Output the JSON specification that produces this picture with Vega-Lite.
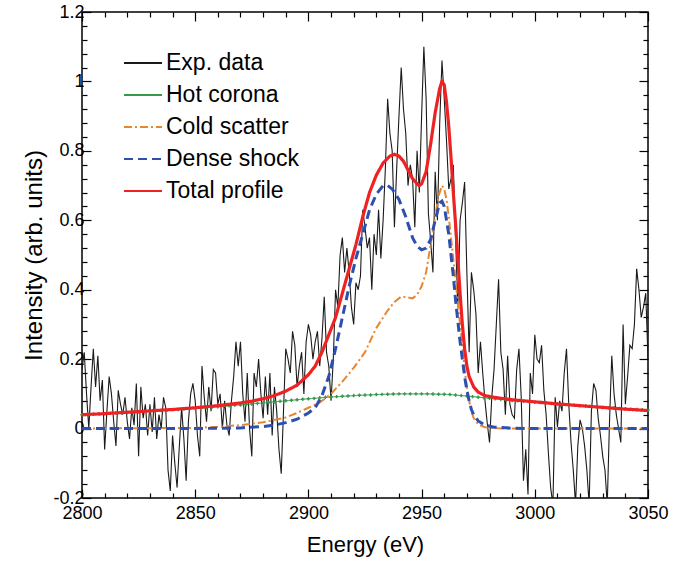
{
"$schema": "https://vega.github.io/schema/vega-lite/v6.json",
"width": 566, "height": 486,
"autosize": "none",
"padding": {"left": 82, "top": 12, "right": 47, "bottom": 63},
"config": {
  "view": {"stroke": "#000", "strokeWidth": 1.5},
  "font": "Liberation Sans",
  "axis": {"grid": false, "domain": false, "labelFont": "Liberation Sans", "titleFont": "Liberation Sans", "labelColor": "#000", "titleColor": "#000", "tickColor": "#000", "tickWidth": 1.2, "labelFontSize": 18, "titleFontSize": 22, "titleFontWeight": "normal", "labelFlush": false, "labelOverlap": false},
  "legend": {"orient": "none", "legendX": 41, "legendY": 31, "title": null, "padding": 0, "labelFontSize": 23, "labelFont": "Liberation Sans", "labelColor": "#000", "symbolType": "stroke", "symbolSize": 1444, "symbolStrokeWidth": 2, "rowPadding": 0, "labelOffset": 3}
},
"datasets": {
"exp": [
{"s":"Exp. data","E":2800,"I":0.17},{"s":"Exp. data","E":2801,"I":0.22},{"s":"Exp. data","E":2802,"I":0.10},{"s":"Exp. data","E":2803,"I":0.0},{"s":"Exp. data","E":2804,"I":0.12},{"s":"Exp. data","E":2805,"I":0.23},{"s":"Exp. data","E":2806,"I":0.12},{"s":"Exp. data","E":2807,"I":0.21},{"s":"Exp. data","E":2808,"I":0.08},{"s":"Exp. data","E":2809,"I":0.14},
{"s":"Exp. data","E":2810,"I":-0.06},{"s":"Exp. data","E":2811,"I":0.05},{"s":"Exp. data","E":2812,"I":0.15},{"s":"Exp. data","E":2813,"I":0.10},{"s":"Exp. data","E":2814,"I":0.02},{"s":"Exp. data","E":2815,"I":-0.05},{"s":"Exp. data","E":2816,"I":0.11},{"s":"Exp. data","E":2817,"I":0.07},{"s":"Exp. data","E":2818,"I":0.04},{"s":"Exp. data","E":2819,"I":0.09},
{"s":"Exp. data","E":2820,"I":0.02},{"s":"Exp. data","E":2821,"I":-0.03},{"s":"Exp. data","E":2822,"I":0.06},{"s":"Exp. data","E":2823,"I":0.01},{"s":"Exp. data","E":2824,"I":0.13},{"s":"Exp. data","E":2825,"I":-0.08},{"s":"Exp. data","E":2826,"I":0.12},{"s":"Exp. data","E":2827,"I":0.03},{"s":"Exp. data","E":2828,"I":0.07},{"s":"Exp. data","E":2829,"I":-0.02},
{"s":"Exp. data","E":2830,"I":0.07},{"s":"Exp. data","E":2831,"I":-0.01},{"s":"Exp. data","E":2832,"I":0.09},{"s":"Exp. data","E":2833,"I":-0.03},{"s":"Exp. data","E":2834,"I":0.04},{"s":"Exp. data","E":2835,"I":0.0},{"s":"Exp. data","E":2836,"I":0.09},{"s":"Exp. data","E":2837,"I":0.06},{"s":"Exp. data","E":2838,"I":-0.12},{"s":"Exp. data","E":2839,"I":-0.18},
{"s":"Exp. data","E":2840,"I":-0.02},{"s":"Exp. data","E":2841,"I":-0.10},{"s":"Exp. data","E":2842,"I":-0.17},{"s":"Exp. data","E":2843,"I":-0.05},{"s":"Exp. data","E":2844,"I":0.06},{"s":"Exp. data","E":2845,"I":-0.03},{"s":"Exp. data","E":2846,"I":-0.15},{"s":"Exp. data","E":2847,"I":0.02},{"s":"Exp. data","E":2848,"I":0.10},{"s":"Exp. data","E":2849,"I":0.13},
{"s":"Exp. data","E":2850,"I":0.08},{"s":"Exp. data","E":2851,"I":-0.02},{"s":"Exp. data","E":2852,"I":-0.08},{"s":"Exp. data","E":2853,"I":0.18},{"s":"Exp. data","E":2854,"I":0.09},{"s":"Exp. data","E":2855,"I":0.02},{"s":"Exp. data","E":2856,"I":0.12},{"s":"Exp. data","E":2857,"I":0.05},{"s":"Exp. data","E":2858,"I":0.17},{"s":"Exp. data","E":2859,"I":0.16},
{"s":"Exp. data","E":2860,"I":0.07},{"s":"Exp. data","E":2861,"I":0.10},{"s":"Exp. data","E":2862,"I":0.0},{"s":"Exp. data","E":2863,"I":0.08},{"s":"Exp. data","E":2864,"I":0.01},{"s":"Exp. data","E":2865,"I":-0.02},{"s":"Exp. data","E":2866,"I":0.08},{"s":"Exp. data","E":2867,"I":0.15},{"s":"Exp. data","E":2868,"I":0.25},{"s":"Exp. data","E":2869,"I":0.18},
{"s":"Exp. data","E":2870,"I":0.25},{"s":"Exp. data","E":2871,"I":0.10},{"s":"Exp. data","E":2872,"I":0.02},{"s":"Exp. data","E":2873,"I":0.16},{"s":"Exp. data","E":2874,"I":0.0},{"s":"Exp. data","E":2875,"I":-0.08},{"s":"Exp. data","E":2876,"I":0.16},{"s":"Exp. data","E":2877,"I":0.12},{"s":"Exp. data","E":2878,"I":0.20},{"s":"Exp. data","E":2879,"I":0.10},
{"s":"Exp. data","E":2880,"I":0.03},{"s":"Exp. data","E":2881,"I":0.15},{"s":"Exp. data","E":2882,"I":0.04},{"s":"Exp. data","E":2883,"I":0.16},{"s":"Exp. data","E":2884,"I":-0.02},{"s":"Exp. data","E":2885,"I":0.12},{"s":"Exp. data","E":2886,"I":0.05},{"s":"Exp. data","E":2887,"I":-0.06},{"s":"Exp. data","E":2888,"I":-0.13},{"s":"Exp. data","E":2889,"I":0.05},
{"s":"Exp. data","E":2890,"I":0.23},{"s":"Exp. data","E":2891,"I":0.20},{"s":"Exp. data","E":2892,"I":0.16},{"s":"Exp. data","E":2893,"I":0.28},{"s":"Exp. data","E":2894,"I":0.24},{"s":"Exp. data","E":2895,"I":0.12},{"s":"Exp. data","E":2896,"I":0.18},{"s":"Exp. data","E":2897,"I":0.22},{"s":"Exp. data","E":2898,"I":0.10},{"s":"Exp. data","E":2899,"I":0.25},
{"s":"Exp. data","E":2900,"I":0.30},{"s":"Exp. data","E":2901,"I":0.27},{"s":"Exp. data","E":2902,"I":0.20},{"s":"Exp. data","E":2903,"I":0.25},{"s":"Exp. data","E":2904,"I":0.28},{"s":"Exp. data","E":2905,"I":0.18},{"s":"Exp. data","E":2906,"I":0.26},{"s":"Exp. data","E":2907,"I":0.38},{"s":"Exp. data","E":2908,"I":0.22},{"s":"Exp. data","E":2909,"I":0.18},
{"s":"Exp. data","E":2910,"I":0.08},{"s":"Exp. data","E":2911,"I":0.20},{"s":"Exp. data","E":2912,"I":0.40},{"s":"Exp. data","E":2913,"I":0.35},{"s":"Exp. data","E":2914,"I":0.50},{"s":"Exp. data","E":2915,"I":0.55},{"s":"Exp. data","E":2916,"I":0.45},{"s":"Exp. data","E":2917,"I":0.52},{"s":"Exp. data","E":2918,"I":0.45},{"s":"Exp. data","E":2919,"I":0.35},
{"s":"Exp. data","E":2920,"I":0.30},{"s":"Exp. data","E":2921,"I":0.42},{"s":"Exp. data","E":2922,"I":0.40},{"s":"Exp. data","E":2923,"I":0.44},{"s":"Exp. data","E":2924,"I":0.63},{"s":"Exp. data","E":2925,"I":0.58},{"s":"Exp. data","E":2926,"I":0.52},{"s":"Exp. data","E":2927,"I":0.55},{"s":"Exp. data","E":2928,"I":0.40},{"s":"Exp. data","E":2929,"I":0.56},
{"s":"Exp. data","E":2930,"I":0.50},{"s":"Exp. data","E":2931,"I":0.63},{"s":"Exp. data","E":2932,"I":0.49},{"s":"Exp. data","E":2933,"I":0.60},{"s":"Exp. data","E":2934,"I":0.75},{"s":"Exp. data","E":2935,"I":0.95},{"s":"Exp. data","E":2936,"I":0.85},{"s":"Exp. data","E":2937,"I":0.80},{"s":"Exp. data","E":2938,"I":0.58},{"s":"Exp. data","E":2939,"I":0.75},
{"s":"Exp. data","E":2940,"I":0.90},{"s":"Exp. data","E":2941,"I":1.04},{"s":"Exp. data","E":2942,"I":0.92},{"s":"Exp. data","E":2943,"I":0.85},{"s":"Exp. data","E":2944,"I":0.70},{"s":"Exp. data","E":2945,"I":0.76},{"s":"Exp. data","E":2946,"I":0.72},{"s":"Exp. data","E":2947,"I":0.58},{"s":"Exp. data","E":2948,"I":0.80},{"s":"Exp. data","E":2949,"I":0.68},
{"s":"Exp. data","E":2950,"I":0.90},{"s":"Exp. data","E":2951,"I":1.10},{"s":"Exp. data","E":2952,"I":0.95},{"s":"Exp. data","E":2953,"I":0.62},{"s":"Exp. data","E":2954,"I":0.54},{"s":"Exp. data","E":2955,"I":0.45},{"s":"Exp. data","E":2956,"I":0.74},{"s":"Exp. data","E":2957,"I":0.60},{"s":"Exp. data","E":2958,"I":0.88},{"s":"Exp. data","E":2959,"I":1.06},
{"s":"Exp. data","E":2960,"I":0.95},{"s":"Exp. data","E":2961,"I":0.83},{"s":"Exp. data","E":2962,"I":0.69},{"s":"Exp. data","E":2963,"I":0.72},{"s":"Exp. data","E":2964,"I":0.76},{"s":"Exp. data","E":2965,"I":0.55},{"s":"Exp. data","E":2966,"I":0.35},{"s":"Exp. data","E":2967,"I":0.60},{"s":"Exp. data","E":2968,"I":0.65},{"s":"Exp. data","E":2969,"I":0.71},
{"s":"Exp. data","E":2970,"I":0.45},{"s":"Exp. data","E":2971,"I":0.22},{"s":"Exp. data","E":2972,"I":0.45},{"s":"Exp. data","E":2973,"I":0.40},{"s":"Exp. data","E":2974,"I":0.33},{"s":"Exp. data","E":2975,"I":0.16},{"s":"Exp. data","E":2976,"I":0.25},{"s":"Exp. data","E":2977,"I":0.16},{"s":"Exp. data","E":2978,"I":0.08},{"s":"Exp. data","E":2979,"I":0.015},
{"s":"Exp. data","E":2980,"I":-0.04},{"s":"Exp. data","E":2981,"I":0.09},{"s":"Exp. data","E":2982,"I":0.17},{"s":"Exp. data","E":2983,"I":0.30},{"s":"Exp. data","E":2984,"I":0.43},{"s":"Exp. data","E":2985,"I":0.22},{"s":"Exp. data","E":2986,"I":0.17},{"s":"Exp. data","E":2987,"I":0.04},{"s":"Exp. data","E":2988,"I":0.21},{"s":"Exp. data","E":2989,"I":0.07},
{"s":"Exp. data","E":2990,"I":0.04},{"s":"Exp. data","E":2991,"I":0.03},{"s":"Exp. data","E":2992,"I":0.17},{"s":"Exp. data","E":2993,"I":0.23},{"s":"Exp. data","E":2994,"I":0.09},{"s":"Exp. data","E":2995,"I":-0.15},{"s":"Exp. data","E":2996,"I":-0.06},{"s":"Exp. data","E":2997,"I":-0.19},{"s":"Exp. data","E":2998,"I":0.16},{"s":"Exp. data","E":2999,"I":0.10},
{"s":"Exp. data","E":3000,"I":0.27},{"s":"Exp. data","E":3001,"I":0.20},{"s":"Exp. data","E":3002,"I":0.19},{"s":"Exp. data","E":3003,"I":0.24},{"s":"Exp. data","E":3004,"I":0.11},{"s":"Exp. data","E":3005,"I":0.04},{"s":"Exp. data","E":3006,"I":-0.07},{"s":"Exp. data","E":3007,"I":-0.17},{"s":"Exp. data","E":3008,"I":-0.22},{"s":"Exp. data","E":3009,"I":0.09},
{"s":"Exp. data","E":3010,"I":0.005},{"s":"Exp. data","E":3011,"I":0.08},{"s":"Exp. data","E":3012,"I":0.05},{"s":"Exp. data","E":3013,"I":0.16},{"s":"Exp. data","E":3014,"I":0.23},{"s":"Exp. data","E":3015,"I":0.07},{"s":"Exp. data","E":3016,"I":-0.04},{"s":"Exp. data","E":3017,"I":-0.12},{"s":"Exp. data","E":3018,"I":-0.22},{"s":"Exp. data","E":3019,"I":-0.05},
{"s":"Exp. data","E":3020,"I":0.025},{"s":"Exp. data","E":3021,"I":0.0},{"s":"Exp. data","E":3022,"I":-0.05},{"s":"Exp. data","E":3023,"I":-0.12},{"s":"Exp. data","E":3024,"I":-0.22},{"s":"Exp. data","E":3025,"I":0.05},{"s":"Exp. data","E":3026,"I":0.13},{"s":"Exp. data","E":3027,"I":0.11},{"s":"Exp. data","E":3028,"I":0.03},{"s":"Exp. data","E":3029,"I":-0.02},
{"s":"Exp. data","E":3030,"I":-0.08},{"s":"Exp. data","E":3031,"I":-0.12},{"s":"Exp. data","E":3032,"I":-0.22},{"s":"Exp. data","E":3033,"I":0.02},{"s":"Exp. data","E":3034,"I":0.21},{"s":"Exp. data","E":3035,"I":0.10},{"s":"Exp. data","E":3036,"I":0.04},{"s":"Exp. data","E":3037,"I":0.0},{"s":"Exp. data","E":3038,"I":-0.04},{"s":"Exp. data","E":3039,"I":0.30},
{"s":"Exp. data","E":3040,"I":0.07},{"s":"Exp. data","E":3041,"I":0.15},{"s":"Exp. data","E":3042,"I":0.24},{"s":"Exp. data","E":3043,"I":0.23},{"s":"Exp. data","E":3044,"I":0.30},{"s":"Exp. data","E":3045,"I":0.46},{"s":"Exp. data","E":3046,"I":0.40},{"s":"Exp. data","E":3047,"I":0.32},{"s":"Exp. data","E":3048,"I":0.35},{"s":"Exp. data","E":3049,"I":0.39},
{"s":"Exp. data","E":3050,"I":0.20}
],
"hot": [
{"s":"Hot corona","E":2800,"I":0.040},{"s":"Hot corona","E":2802.5,"I":0.041},{"s":"Hot corona","E":2805,"I":0.0415},{"s":"Hot corona","E":2807.5,"I":0.042},{"s":"Hot corona","E":2810,"I":0.043},{"s":"Hot corona","E":2812.5,"I":0.044},{"s":"Hot corona","E":2815,"I":0.0445},{"s":"Hot corona","E":2817.5,"I":0.045},
{"s":"Hot corona","E":2820,"I":0.046},{"s":"Hot corona","E":2822.5,"I":0.047},{"s":"Hot corona","E":2825,"I":0.048},{"s":"Hot corona","E":2827.5,"I":0.049},{"s":"Hot corona","E":2830,"I":0.050},{"s":"Hot corona","E":2832.5,"I":0.051},{"s":"Hot corona","E":2835,"I":0.052},{"s":"Hot corona","E":2837.5,"I":0.053},
{"s":"Hot corona","E":2840,"I":0.054},{"s":"Hot corona","E":2842.5,"I":0.055},{"s":"Hot corona","E":2845,"I":0.056},{"s":"Hot corona","E":2847.5,"I":0.057},{"s":"Hot corona","E":2850,"I":0.058},{"s":"Hot corona","E":2852.5,"I":0.059},{"s":"Hot corona","E":2855,"I":0.0605},{"s":"Hot corona","E":2857.5,"I":0.062},
{"s":"Hot corona","E":2860,"I":0.063},{"s":"Hot corona","E":2862.5,"I":0.064},{"s":"Hot corona","E":2865,"I":0.0655},{"s":"Hot corona","E":2867.5,"I":0.067},{"s":"Hot corona","E":2870,"I":0.068},{"s":"Hot corona","E":2872.5,"I":0.0695},{"s":"Hot corona","E":2875,"I":0.071},{"s":"Hot corona","E":2877.5,"I":0.0725},
{"s":"Hot corona","E":2880,"I":0.074},{"s":"Hot corona","E":2882.5,"I":0.0755},{"s":"Hot corona","E":2885,"I":0.077},{"s":"Hot corona","E":2887.5,"I":0.0785},{"s":"Hot corona","E":2890,"I":0.080},{"s":"Hot corona","E":2892.5,"I":0.0815},{"s":"Hot corona","E":2895,"I":0.083},{"s":"Hot corona","E":2897.5,"I":0.0845},
{"s":"Hot corona","E":2900,"I":0.086},{"s":"Hot corona","E":2902.5,"I":0.087},{"s":"Hot corona","E":2905,"I":0.0885},{"s":"Hot corona","E":2907.5,"I":0.090},{"s":"Hot corona","E":2910,"I":0.091},{"s":"Hot corona","E":2912.5,"I":0.092},{"s":"Hot corona","E":2915,"I":0.093},{"s":"Hot corona","E":2917.5,"I":0.094},
{"s":"Hot corona","E":2920,"I":0.095},{"s":"Hot corona","E":2922.5,"I":0.096},{"s":"Hot corona","E":2925,"I":0.0965},{"s":"Hot corona","E":2927.5,"I":0.097},{"s":"Hot corona","E":2930,"I":0.098},{"s":"Hot corona","E":2932.5,"I":0.0985},{"s":"Hot corona","E":2935,"I":0.099},{"s":"Hot corona","E":2937.5,"I":0.0995},
{"s":"Hot corona","E":2940,"I":0.100},{"s":"Hot corona","E":2942.5,"I":0.100},{"s":"Hot corona","E":2945,"I":0.100},{"s":"Hot corona","E":2947.5,"I":0.100},{"s":"Hot corona","E":2950,"I":0.100},{"s":"Hot corona","E":2952.5,"I":0.100},{"s":"Hot corona","E":2955,"I":0.0995},{"s":"Hot corona","E":2957.5,"I":0.099},
{"s":"Hot corona","E":2960,"I":0.099},{"s":"Hot corona","E":2962.5,"I":0.098},{"s":"Hot corona","E":2965,"I":0.0965},{"s":"Hot corona","E":2967.5,"I":0.095},{"s":"Hot corona","E":2970,"I":0.094},{"s":"Hot corona","E":2972.5,"I":0.092},{"s":"Hot corona","E":2975,"I":0.0905},{"s":"Hot corona","E":2977.5,"I":0.089},
{"s":"Hot corona","E":2980,"I":0.087},{"s":"Hot corona","E":2982.5,"I":0.0855},{"s":"Hot corona","E":2985,"I":0.084},{"s":"Hot corona","E":2987.5,"I":0.0825},{"s":"Hot corona","E":2990,"I":0.081},{"s":"Hot corona","E":2992.5,"I":0.080},{"s":"Hot corona","E":2995,"I":0.0785},{"s":"Hot corona","E":2997.5,"I":0.077},
{"s":"Hot corona","E":3000,"I":0.076},{"s":"Hot corona","E":3002.5,"I":0.075},{"s":"Hot corona","E":3005,"I":0.0735},{"s":"Hot corona","E":3007.5,"I":0.072},{"s":"Hot corona","E":3010,"I":0.071},{"s":"Hot corona","E":3012.5,"I":0.070},{"s":"Hot corona","E":3015,"I":0.0685},{"s":"Hot corona","E":3017.5,"I":0.067},
{"s":"Hot corona","E":3020,"I":0.066},{"s":"Hot corona","E":3022.5,"I":0.065},{"s":"Hot corona","E":3025,"I":0.0635},{"s":"Hot corona","E":3027.5,"I":0.062},{"s":"Hot corona","E":3030,"I":0.061},{"s":"Hot corona","E":3032.5,"I":0.060},{"s":"Hot corona","E":3035,"I":0.059},{"s":"Hot corona","E":3037.5,"I":0.058},
{"s":"Hot corona","E":3040,"I":0.057},{"s":"Hot corona","E":3042.5,"I":0.056},{"s":"Hot corona","E":3045,"I":0.055},{"s":"Hot corona","E":3047.5,"I":0.054},{"s":"Hot corona","E":3050,"I":0.053}
],
"fits": [
{"s":"Cold scatter","E":2800,"I":0},{"s":"Cold scatter","E":2850,"I":0.002},{"s":"Cold scatter","E":2860,"I":0.005},{"s":"Cold scatter","E":2870,"I":0.01},{"s":"Cold scatter","E":2880,"I":0.018},{"s":"Cold scatter","E":2885,"I":0.025},{"s":"Cold scatter","E":2890,"I":0.032},{"s":"Cold scatter","E":2895,"I":0.045},{"s":"Cold scatter","E":2900,"I":0.06},{"s":"Cold scatter","E":2905,"I":0.075},{"s":"Cold scatter","E":2910,"I":0.10},{"s":"Cold scatter","E":2915,"I":0.135},{"s":"Cold scatter","E":2920,"I":0.175},{"s":"Cold scatter","E":2925,"I":0.22},{"s":"Cold scatter","E":2930,"I":0.29},{"s":"Cold scatter","E":2935,"I":0.34},{"s":"Cold scatter","E":2938,"I":0.365},{"s":"Cold scatter","E":2941,"I":0.38},{"s":"Cold scatter","E":2944,"I":0.378},{"s":"Cold scatter","E":2946,"I":0.375},{"s":"Cold scatter","E":2948,"I":0.385},{"s":"Cold scatter","E":2950,"I":0.41},{"s":"Cold scatter","E":2952,"I":0.45},{"s":"Cold scatter","E":2954,"I":0.53},{"s":"Cold scatter","E":2956,"I":0.61},{"s":"Cold scatter","E":2957.5,"I":0.67},{"s":"Cold scatter","E":2959,"I":0.70},{"s":"Cold scatter","E":2960,"I":0.69},{"s":"Cold scatter","E":2961,"I":0.66},{"s":"Cold scatter","E":2962,"I":0.61},{"s":"Cold scatter","E":2963,"I":0.55},{"s":"Cold scatter","E":2964,"I":0.49},{"s":"Cold scatter","E":2965,"I":0.43},{"s":"Cold scatter","E":2966,"I":0.36},{"s":"Cold scatter","E":2967,"I":0.30},{"s":"Cold scatter","E":2968,"I":0.24},{"s":"Cold scatter","E":2969,"I":0.17},{"s":"Cold scatter","E":2970,"I":0.12},{"s":"Cold scatter","E":2971,"I":0.08},{"s":"Cold scatter","E":2972,"I":0.05},{"s":"Cold scatter","E":2973,"I":0.03},{"s":"Cold scatter","E":2975,"I":0.012},{"s":"Cold scatter","E":2978,"I":0.004},{"s":"Cold scatter","E":2985,"I":0},{"s":"Cold scatter","E":3050,"I":0},
{"s":"Dense shock","E":2800,"I":0},{"s":"Dense shock","E":2850,"I":0},{"s":"Dense shock","E":2870,"I":0.002},{"s":"Dense shock","E":2880,"I":0.006},{"s":"Dense shock","E":2885,"I":0.01},{"s":"Dense shock","E":2890,"I":0.017},{"s":"Dense shock","E":2895,"I":0.027},{"s":"Dense shock","E":2900,"I":0.045},{"s":"Dense shock","E":2903,"I":0.06},{"s":"Dense shock","E":2906,"I":0.095},{"s":"Dense shock","E":2909,"I":0.15},{"s":"Dense shock","E":2912,"I":0.23},{"s":"Dense shock","E":2915,"I":0.32},{"s":"Dense shock","E":2918,"I":0.41},{"s":"Dense shock","E":2921,"I":0.49},{"s":"Dense shock","E":2924,"I":0.56},{"s":"Dense shock","E":2927,"I":0.63},{"s":"Dense shock","E":2930,"I":0.675},{"s":"Dense shock","E":2933,"I":0.70},{"s":"Dense shock","E":2935,"I":0.70},{"s":"Dense shock","E":2937,"I":0.69},{"s":"Dense shock","E":2940,"I":0.66},{"s":"Dense shock","E":2943,"I":0.61},{"s":"Dense shock","E":2946,"I":0.55},{"s":"Dense shock","E":2948,"I":0.525},{"s":"Dense shock","E":2950,"I":0.515},{"s":"Dense shock","E":2952,"I":0.52},{"s":"Dense shock","E":2954,"I":0.545},{"s":"Dense shock","E":2956,"I":0.60},{"s":"Dense shock","E":2958,"I":0.65},{"s":"Dense shock","E":2959,"I":0.655},{"s":"Dense shock","E":2960,"I":0.64},{"s":"Dense shock","E":2961,"I":0.60},{"s":"Dense shock","E":2962,"I":0.56},{"s":"Dense shock","E":2963,"I":0.50},{"s":"Dense shock","E":2964,"I":0.44},{"s":"Dense shock","E":2965,"I":0.37},{"s":"Dense shock","E":2966,"I":0.31},{"s":"Dense shock","E":2967,"I":0.25},{"s":"Dense shock","E":2968,"I":0.20},{"s":"Dense shock","E":2969,"I":0.15},{"s":"Dense shock","E":2970,"I":0.11},{"s":"Dense shock","E":2971,"I":0.08},{"s":"Dense shock","E":2972,"I":0.055},{"s":"Dense shock","E":2973,"I":0.04},{"s":"Dense shock","E":2975,"I":0.022},{"s":"Dense shock","E":2978,"I":0.01},{"s":"Dense shock","E":2982,"I":0.004},{"s":"Dense shock","E":2990,"I":0.001},{"s":"Dense shock","E":3000,"I":0},{"s":"Dense shock","E":3050,"I":0},
{"s":"Total profile","E":2800,"I":0.040},{"s":"Total profile","E":2810,"I":0.043},{"s":"Total profile","E":2820,"I":0.047},{"s":"Total profile","E":2830,"I":0.051},{"s":"Total profile","E":2840,"I":0.055},{"s":"Total profile","E":2850,"I":0.060},{"s":"Total profile","E":2860,"I":0.066},{"s":"Total profile","E":2870,"I":0.074},{"s":"Total profile","E":2875,"I":0.079},{"s":"Total profile","E":2880,"I":0.086},{"s":"Total profile","E":2885,"I":0.095},{"s":"Total profile","E":2890,"I":0.108},{"s":"Total profile","E":2895,"I":0.125},{"s":"Total profile","E":2900,"I":0.155},{"s":"Total profile","E":2903,"I":0.18},{"s":"Total profile","E":2906,"I":0.22},{"s":"Total profile","E":2909,"I":0.27},{"s":"Total profile","E":2912,"I":0.32},{"s":"Total profile","E":2915,"I":0.39},{"s":"Total profile","E":2918,"I":0.46},{"s":"Total profile","E":2921,"I":0.53},{"s":"Total profile","E":2924,"I":0.61},{"s":"Total profile","E":2927,"I":0.68},{"s":"Total profile","E":2930,"I":0.73},{"s":"Total profile","E":2933,"I":0.765},{"s":"Total profile","E":2936,"I":0.785},{"s":"Total profile","E":2938,"I":0.79},{"s":"Total profile","E":2940,"I":0.785},{"s":"Total profile","E":2942,"I":0.77},{"s":"Total profile","E":2944,"I":0.745},{"s":"Total profile","E":2946,"I":0.72},{"s":"Total profile","E":2948,"I":0.705},{"s":"Total profile","E":2949,"I":0.70},{"s":"Total profile","E":2950,"I":0.705},{"s":"Total profile","E":2952,"I":0.74},{"s":"Total profile","E":2954,"I":0.82},{"s":"Total profile","E":2956,"I":0.91},{"s":"Total profile","E":2958,"I":0.98},{"s":"Total profile","E":2959,"I":1.0},{"s":"Total profile","E":2960,"I":0.99},{"s":"Total profile","E":2961,"I":0.94},{"s":"Total profile","E":2962,"I":0.87},{"s":"Total profile","E":2963,"I":0.78},{"s":"Total profile","E":2964,"I":0.68},{"s":"Total profile","E":2965,"I":0.59},{"s":"Total profile","E":2966,"I":0.49},{"s":"Total profile","E":2967,"I":0.39},{"s":"Total profile","E":2968,"I":0.30},{"s":"Total profile","E":2969,"I":0.23},{"s":"Total profile","E":2970,"I":0.18},{"s":"Total profile","E":2971,"I":0.15},{"s":"Total profile","E":2972,"I":0.135},{"s":"Total profile","E":2973,"I":0.12},{"s":"Total profile","E":2975,"I":0.105},{"s":"Total profile","E":2978,"I":0.095},{"s":"Total profile","E":2982,"I":0.09},{"s":"Total profile","E":2990,"I":0.083},{"s":"Total profile","E":3000,"I":0.077},{"s":"Total profile","E":3010,"I":0.071},{"s":"Total profile","E":3020,"I":0.066},{"s":"Total profile","E":3030,"I":0.061},{"s":"Total profile","E":3040,"I":0.056},{"s":"Total profile","E":3050,"I":0.052}
]
},
"resolve": {"axis": {"x": "independent", "y": "independent"}},
"layer": [
{
  "data": {"name": "exp"},
  "mark": {"type": "line", "strokeWidth": 1.1, "clip": true},
  "encoding": {
    "x": {"field": "E", "type": "quantitative", "scale": {"domain": [2800, 3050], "nice": false, "zero": false},
      "axis": {"orient": "bottom", "title": "Energy (eV)", "titlePadding": 8, "labelPadding": 15,
        "values": [2800,2810,2820,2830,2840,2850,2860,2870,2880,2890,2900,2910,2920,2930,2940,2950,2960,2970,2980,2990,3000,3010,3020,3030,3040,3050],
        "labelExpr": "datum.value % 50 === 0 ? toString(datum.value) : ''",
        "tickSize": {"condition": {"test": "datum.value % 50 === 0", "value": -9}, "value": -5}}},
    "y": {"field": "I", "type": "quantitative", "scale": {"domain": [-0.2, 1.2], "nice": false, "zero": false},
      "axis": {"orient": "left", "title": "Intensity (arb. units)", "titleFontSize": 24, "titlePadding": 6, "labelPadding": 7,
        "values": [-0.2,-0.16,-0.12,-0.08,-0.04,0,0.04,0.08,0.12,0.16,0.2,0.24,0.28,0.32,0.36,0.4,0.44,0.48,0.52,0.56,0.6,0.64,0.68,0.72,0.76,0.8,0.84,0.88,0.92,0.96,1,1.04,1.08,1.12,1.16,1.2],
        "labelExpr": "abs(datum.value*5 - round(datum.value*5)) < 0.000001 ? toString(round(datum.value*10)/10) : ''",
        "tickSize": {"condition": {"test": "abs(datum.value*5 - round(datum.value*5)) < 0.000001", "value": -9}, "value": -5}}},
    "color": {"field": "s", "type": "nominal", "title": null,
      "scale": {"domain": ["Exp. data","Hot corona","Cold scatter","Dense shock","Total profile"], "range": ["#1a1a1a","#34994a","#e8862e","#2c4fb0","#ee2222"]}},
    "strokeDash": {"field": "s", "type": "nominal", "title": null,
      "scale": {"domain": ["Exp. data","Hot corona","Cold scatter","Dense shock","Total profile"], "range": [[1,0],[1,0],[8,3,2,3],[9,5],[1,0]]}}
  }
},
{
  "data": {"name": "hot"},
  "mark": {"type": "line", "strokeWidth": 1},
  "encoding": {
    "x": {"field": "E", "type": "quantitative", "axis": null},
    "y": {"field": "I", "type": "quantitative", "axis": null},
    "color": {"field": "s", "type": "nominal", "title": null},
    "strokeDash": {"field": "s", "type": "nominal", "title": null}
  }
},
{
  "data": {"name": "hot"},
  "mark": {"type": "point", "shape": "cross", "filled": true, "size": 12, "color": "#34994a", "opacity": 1},
  "encoding": {
    "x": {"field": "E", "type": "quantitative", "axis": null},
    "y": {"field": "I", "type": "quantitative", "axis": null}
  }
},
{
  "data": {"name": "fits"},
  "transform": [{"filter": "datum.s === 'Cold scatter'"}],
  "mark": {"type": "line", "strokeWidth": 2},
  "encoding": {
    "x": {"field": "E", "type": "quantitative", "axis": null},
    "y": {"field": "I", "type": "quantitative", "axis": null},
    "color": {"field": "s", "type": "nominal", "title": null},
    "strokeDash": {"field": "s", "type": "nominal", "title": null}
  }
},
{
  "data": {"name": "fits"},
  "transform": [{"filter": "datum.s === 'Dense shock'"}],
  "mark": {"type": "line", "strokeWidth": 3},
  "encoding": {
    "x": {"field": "E", "type": "quantitative", "axis": null},
    "y": {"field": "I", "type": "quantitative", "axis": null},
    "color": {"field": "s", "type": "nominal", "title": null},
    "strokeDash": {"field": "s", "type": "nominal", "title": null}
  }
},
{
  "data": {"name": "fits"},
  "transform": [{"filter": "datum.s === 'Total profile'"}],
  "mark": {"type": "line", "strokeWidth": 3.2},
  "encoding": {
    "x": {"field": "E", "type": "quantitative", "axis": null},
    "y": {"field": "I", "type": "quantitative", "axis": null},
    "color": {"field": "s", "type": "nominal", "title": null},
    "strokeDash": {"field": "s", "type": "nominal", "title": null}
  }
},
{
  "data": {"name": "hot"},
  "mark": {"type": "line", "opacity": 0},
  "encoding": {
    "x": {"field": "E", "type": "quantitative",
      "axis": {"orient": "top", "title": null, "labels": false,
        "values": [2800,2810,2820,2830,2840,2850,2860,2870,2880,2890,2900,2910,2920,2930,2940,2950,2960,2970,2980,2990,3000,3010,3020,3030,3040,3050],
        "tickSize": {"condition": {"test": "datum.value % 50 === 0", "value": -9}, "value": -5}}},
    "y": {"field": "I", "type": "quantitative",
      "axis": {"orient": "right", "title": null, "labels": false,
        "values": [-0.2,-0.16,-0.12,-0.08,-0.04,0,0.04,0.08,0.12,0.16,0.2,0.24,0.28,0.32,0.36,0.4,0.44,0.48,0.52,0.56,0.6,0.64,0.68,0.72,0.76,0.8,0.84,0.88,0.92,0.96,1,1.04,1.08,1.12,1.16,1.2],
        "tickSize": {"condition": {"test": "abs(datum.value*5 - round(datum.value*5)) < 0.000001", "value": -9}, "value": -5}}}
  }
}
]
}
